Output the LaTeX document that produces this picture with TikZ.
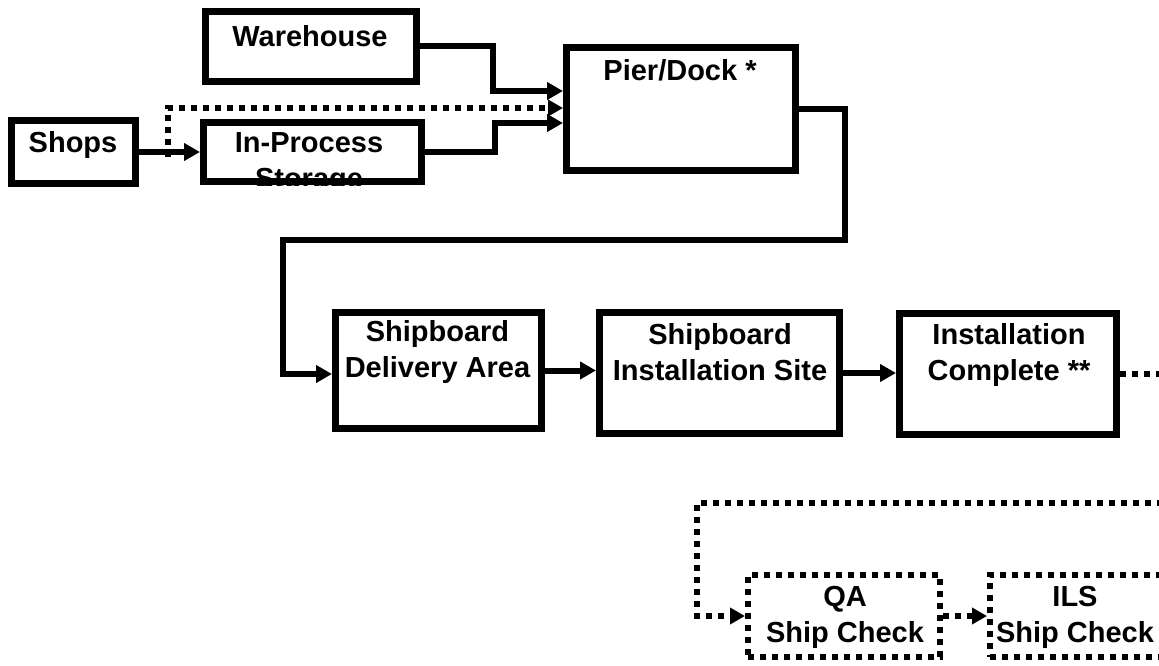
\documentclass[tikz,border=0pt]{standalone}
\usepackage{fontspec}
\setmainfont{Liberation Sans}
\usetikzlibrary{arrows.meta}
\begin{document}
\begin{tikzpicture}[x=1pt,y=-1pt,
    box/.style={draw, line width=7pt, inner sep=0pt},
    dbox/.style={draw, line width=6pt, dash pattern=on 6pt off 6pt, inner sep=0pt},
    lbl/.style={anchor=north, inner sep=0pt, align=center, font=\fontsize{29}{36}\selectfont\bfseries},
    flow/.style={line width=6pt, -{Triangle[length=16pt,width=17pt]}},
    dflow/.style={line width=6pt, dash pattern=on 6pt off 6pt, -{Triangle[length=15pt,width=16pt]}}]
    \useasboundingbox (0,0) rectangle (1159,666);
    \clip (0,0) rectangle (1159,666);
    \node[box, minimum width=124pt, minimum height=63pt] (shops) at (73.5,152) {};
    \node[box, minimum width=211pt, minimum height=70pt] (ware) at (311,46.5) {};
    \node[box, minimum width=218pt, minimum height=59pt] (inproc) at (312.5,152) {};
    \node[box, minimum width=229pt, minimum height=123pt] (pier) at (681,109) {};
    \node[box, minimum width=206pt, minimum height=116pt] (deliv) at (438.5,370.5) {};
    \node[box, minimum width=240pt, minimum height=121pt] (site) at (719.5,373) {};
    \node[box, minimum width=217pt, minimum height=121pt] (comp) at (1008,374) {};
    \node[dbox, minimum width=192pt, minimum height=82pt] (qa) at (844,616) {};
    \node[dbox, minimum width=177pt, minimum height=82pt] (ils) at (1078.5,616) {};
    \node[lbl] (shopsT) at (73,131) {Shops};
    \node[lbl] (wareT) at (310,25) {Warehouse};
    \begin{scope}
    \clip (inproc.north west) rectangle (inproc.south east);
    \node[lbl] (inprocT) at (309,132) {In-Process\\Storage};
    \end{scope}
    \node[lbl] (pierT) at (680,59) {Pier/Dock *};
    \node[lbl] (delivT) at (437.5,320) {Shipboard\\Delivery Area};
    \node[lbl] (siteT) at (720,323) {Shipboard\\Installation Site};
    \node[lbl] (compT) at (1009,323) {Installation\\Complete **};
    \node[lbl] (qaT) at (845,586) {QA\\Ship Check};
    \node[lbl] (ilsT) at (1075,586) {ILS\\Ship Check};
    \coordinate (wj) at (493,91);
    \coordinate (ij) at (495,123);
    \coordinate (sd) at (168,157);
    \coordinate (dj) at (168,108);
    \coordinate (pr) at (845,240);
    \coordinate (pl) at (283,374);
    \coordinate (cr) at (1185,503);
    \coordinate (ql) at (697,503);
    \draw[flow] (shops) -- (inproc);
    \draw[flow] (ware.east) -| (wj) -- (wj -| pier.west);
    \draw[flow] (inproc.east) -| (ij) -- (ij -| pier.west);
    \draw[dflow] (sd) -- (dj) -- (dj -| pier.west);
    \draw[flow] (pier.east) -| (pr) -| (pl) -- (pl -| deliv.west);
    \draw[flow] (deliv.east) -- (deliv.east -| site.west);
    \draw[flow] (site.east) -- (site.east -| comp.west);
    \draw[dflow] (comp.east) -| (cr) -- (ql) |- (qa.west);
    \draw[dflow] (qa.east) -- (qa.east -| ils.west);
\end{tikzpicture}
\end{document}
